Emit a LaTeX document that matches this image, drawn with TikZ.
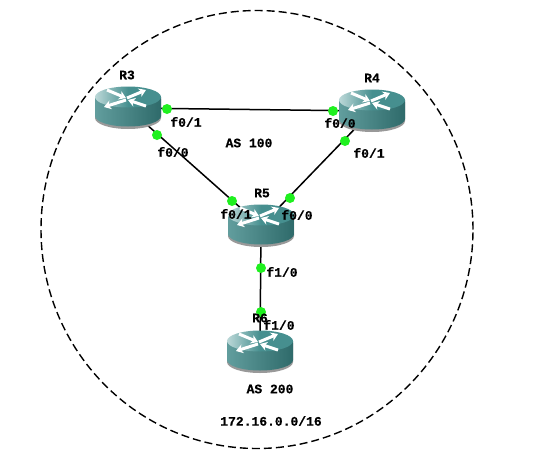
\documentclass[tikz,border=0pt]{standalone}
\usepackage{fontspec}
\setmonofont[BoldFont={Liberation Mono Bold},BoldFeatures={FakeBold=0.5}]{Liberation Mono}
\usetikzlibrary{arrows.meta, shapes.geometric}
\definecolor{routerteal}{HTML}{468F8F}
\definecolor{routerside}{HTML}{3A8585}
\definecolor{routerlight}{HTML}{BCD8D8}
\definecolor{portgreen}{HTML}{1FF01F}
\tikzset{
    lbl/.style={font=\ttfamily\bfseries\fontsize{13}{13}\selectfont, text=black, inner sep=0pt},
    portdot/.style={circle, fill=portgreen, draw=none, minimum size=10pt, inner sep=0pt},
    wire/.style={line width=1.5pt, black},
    arr/.style={white, line width=3pt, -{Stealth[length=7pt,width=9pt]}},
    router/.pic={
        \fill[black!40] (-33,-9) -- (33,-9) -- (33,10) arc (0:180:33 and 11) -- cycle;
        \shade[left color=routerside!80!white, middle color=routerside, right color=routerside!80!black] (-33,-11) -- (33,-11) -- (33,8) arc (0:180:33 and 10.5) -- cycle;
        \shade[left color=routerlight, right color=routerteal, middle color=routerteal] (0,-11) ellipse (33 and 10.5);
        \draw[arr] (-21,-18) -- (-2,-10);
        \draw[arr] (-1,-10) -- (18,-18);
        \draw[arr] (-2,-8) -- (-24,-1);
        \draw[arr] (18,-2) -- (0,-8);
    }
}

\begin{document}
\begin{tikzpicture}[x=1pt, y=-1pt]
    \useasboundingbox[fill=white] (0,0) rectangle (542,464);

    % the routers
    \coordinate (R3) at (128,108);
    \coordinate (R4) at (372,111);
    \coordinate (R5) at (261,226);
    \coordinate (R6) at (260,352);

    % the AS boundary
    \node[draw, dash pattern=on 8pt off 4pt, line width=1.4pt, ellipse, minimum width=432pt, minimum height=438pt, inner sep=0pt] (border) at (257,229.5) {};

    % links, under the routers
    \draw[wire] (R3) -- (R4);
    \draw[wire] (R3) -- (R5);
    \draw[wire] (R4) -- (R5);
    \draw[wire] (R5) -- (R6);

    \pic at (R3) {router};
    \pic at (R4) {router};
    \pic at (R5) {router};
    \pic at (R6) {router};

    % ports
    \node[portdot] (p3a) at (167,109) {};
    \node[portdot] (p3b) at (157,135) {};
    \node[portdot] (p4a) at (333,111) {};
    \node[portdot] (p4b) at (345,141) {};
    \node[portdot] (p5a) at (232,201) {};
    \node[portdot] (p5b) at (290,198) {};
    \node[portdot] (p5c) at (261,268) {};
    \node[portdot] (p6a) at (261,312) {};

    % names
    \node[lbl] (nameR3) at (127,75) {R3};
    \node[lbl] (nameR4) at (372,78) {R4};
    \node[lbl] (nameR5) at (262,193) {R5};
    \node[lbl] (nameR6) at (260,318) {R6};

    % interface labels
    \node[lbl] (l3a) at (186,122) {f0/1};
    \node[lbl] (l3b) at (173,152) {f0/0};
    \node[lbl] (l4a) at (340,123) {f0/0};
    \node[lbl] (l4b) at (369,153) {f0/1};
    \node[lbl] (l5a) at (236,214) {f0/1};
    \node[lbl] (l5b) at (297,215) {f0/0};
    \node[lbl] (l5c) at (282,272) {f1/0};
    \node[lbl] (l6a) at (279,325) {f1/0};

    \node[lbl] (as100) at (249,143) {AS 100};
    \node[lbl] (as200) at (270,389) {AS 200};
    \node[lbl] (net) at (271,421) {172.16.0.0/16};
\end{tikzpicture}
\end{document}
